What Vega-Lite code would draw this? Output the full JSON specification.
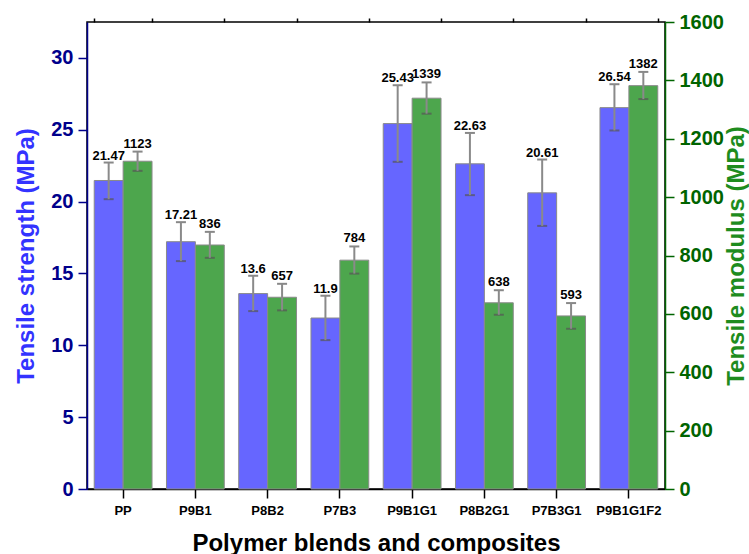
{
  "$schema": "https://vega.github.io/schema/vega-lite/v6.json",
  "width": 578,
  "height": 467,
  "autosize": {"type": "none"},
  "padding": {"left": 87, "top": 22, "right": 84, "bottom": 65},
  "config": {
    "font": "Liberation Sans",
    "view": {"stroke": "black", "strokeWidth": 1.5},
    "axis": {"grid": false}
  },
  "datasets": {
    "ts": [
      {"sample": "PP", "series": "TS", "value": 21.47, "lo": 20.17, "hi": 22.72},
      {"sample": "P9B1", "series": "TS", "value": 17.21, "lo": 15.86, "hi": 18.57},
      {"sample": "P8B2", "series": "TS", "value": 13.6, "lo": 12.38, "hi": 14.84},
      {"sample": "P7B3", "series": "TS", "value": 11.9, "lo": 10.36, "hi": 13.45},
      {"sample": "P9B1G1", "series": "TS", "value": 25.43, "lo": 22.77, "hi": 28.1},
      {"sample": "P8B2G1", "series": "TS", "value": 22.63, "lo": 20.45, "hi": 24.78},
      {"sample": "P7B3G1", "series": "TS", "value": 20.61, "lo": 18.31, "hi": 22.93},
      {"sample": "P9B1G1F2", "series": "TS", "value": 26.54, "lo": 24.95, "hi": 28.17}
    ],
    "tm": [
      {"sample": "PP", "series": "TM", "value": 1123, "lo": 1090, "hi": 1156},
      {"sample": "P9B1", "series": "TM", "value": 836, "lo": 792, "hi": 881},
      {"sample": "P8B2", "series": "TM", "value": 657, "lo": 612, "hi": 703},
      {"sample": "P7B3", "series": "TM", "value": 784, "lo": 738, "hi": 831},
      {"sample": "P9B1G1", "series": "TM", "value": 1339, "lo": 1286, "hi": 1393},
      {"sample": "P8B2G1", "series": "TM", "value": 638, "lo": 597, "hi": 681},
      {"sample": "P7B3G1", "series": "TM", "value": 593, "lo": 549, "hi": 637},
      {"sample": "P9B1G1F2", "series": "TM", "value": 1382, "lo": 1336, "hi": 1429}
    ]
  },
  "layer": [
    {
      "data": {"name": "ts"},
      "encoding": {
        "x": {
          "field": "sample", "type": "nominal", "sort": null,
          "scale": {"paddingInner": 0.2, "paddingOuter": 0.1},
          "axis": {
            "title": "Polymer blends and composites",
            "titleFontSize": 24, "titleFontWeight": "bold", "titleColor": "black", "titlePadding": 14,
            "labelAngle": 0, "labelFontSize": 13, "labelFontWeight": "bold", "labelColor": "black",
            "labelPadding": 6, "tickSize": 9, "tickWidth": 1.5, "tickColor": "black",
            "domainColor": "black", "domainWidth": 1.5
          }
        },
        "xOffset": {"field": "series", "type": "nominal", "scale": {"domain": ["TS", "TM"]}}
      },
      "layer": [
        {
          "mark": {"type": "bar", "color": "#6666FF", "stroke": "#8a8a8a", "strokeWidth": 1},
          "encoding": {
            "y": {
              "field": "value", "type": "quantitative",
              "title": "Tensile strength (MPa)",
              "scale": {"domain": [0, 32.5], "nice": false},
              "axis": {
                "orient": "left",
                "title": "Tensile strength (MPa)",
                "titleFontSize": 24, "titleFontWeight": "bold", "titleColor": "#3333FF", "titlePadding": 12,
                "values": [0, 2.5, 5, 7.5, 10, 12.5, 15, 17.5, 20, 22.5, 25, 27.5, 30],
                "labelExpr": "datum.value % 5 === 0 ? datum.label : ''",
                "labelFontSize": 20, "labelFontWeight": "bold", "labelColor": "#00008B", "labelPadding": 5,
                "tickSize": {"condition": {"test": "datum.value % 5 === 0", "value": 9}, "value": 4},
                "tickColor": "#00008B", "tickWidth": 1.5,
                "domainColor": "#00008B", "domainWidth": 1.5
              }
            }
          }
        },
        {
          "mark": {"type": "errorbar", "ticks": {"size": 10, "thickness": 2, "color": "#555555"}, "rule": {"color": "#8a8a8a", "strokeWidth": 2}},
          "encoding": {
            "y": {"field": "lo", "type": "quantitative", "title": "Tensile strength (MPa)"},
            "y2": {"field": "hi"}
          }
        },
        {
          "mark": {"type": "text", "fontSize": 13, "fontWeight": "bold", "color": "black", "baseline": "alphabetic", "dy": -3},
          "encoding": {
            "y": {"field": "hi", "type": "quantitative", "title": "Tensile strength (MPa)"},
            "text": {"field": "value", "type": "nominal"}
          }
        }
      ]
    },
    {
      "data": {"name": "tm"},
      "encoding": {
        "x": {
          "field": "sample", "type": "nominal", "sort": null,
          "axis": {
            "title": null, "labels": false, "domain": false,
            "tickBand": "extent", "tickSize": 4, "tickWidth": 1.5, "tickColor": "black"
          }
        },
        "xOffset": {"field": "series", "type": "nominal", "scale": {"domain": ["TS", "TM"]}}
      },
      "layer": [
        {
          "mark": {"type": "bar", "color": "#4DA64D", "stroke": "#8a8a8a", "strokeWidth": 1},
          "encoding": {
            "y": {
              "field": "value", "type": "quantitative",
              "title": "Tensile modulus (MPa)",
              "scale": {"domain": [0, 1600], "nice": false},
              "axis": {
                "orient": "right",
                "title": "Tensile modulus (MPa)",
                "titleFontSize": 24, "titleFontWeight": "bold", "titleColor": "#1E8C1E",
                "titleAngle": -90, "titleX": 71, "titleY": 233.5, "titleAlign": "center", "titleBaseline": "middle",
                "values": [0, 100, 200, 300, 400, 500, 600, 700, 800, 900, 1000, 1100, 1200, 1300, 1400, 1500, 1600],
                "labelExpr": "datum.value % 200 === 0 ? datum.label : ''",
                "format": "d",
                "labelFontSize": 20, "labelFontWeight": "bold", "labelColor": "#006400", "labelPadding": 5,
                "tickSize": {"condition": {"test": "datum.value % 200 === 0", "value": 9}, "value": 4},
                "tickColor": "#006400", "tickWidth": 1.5,
                "domainColor": "#006400", "domainWidth": 1.5
              }
            }
          }
        },
        {
          "mark": {"type": "errorbar", "ticks": {"size": 10, "thickness": 2, "color": "#555555"}, "rule": {"color": "#8a8a8a", "strokeWidth": 2}},
          "encoding": {
            "y": {"field": "lo", "type": "quantitative", "title": "Tensile modulus (MPa)"},
            "y2": {"field": "hi"}
          }
        },
        {
          "mark": {"type": "text", "fontSize": 13, "fontWeight": "bold", "color": "black", "baseline": "alphabetic", "dy": -4},
          "encoding": {
            "y": {"field": "hi", "type": "quantitative", "title": "Tensile modulus (MPa)"},
            "text": {"field": "value", "type": "nominal"}
          }
        }
      ]
    }
  ],
  "resolve": {"scale": {"y": "independent"}, "axis": {"x": "independent"}}
}
